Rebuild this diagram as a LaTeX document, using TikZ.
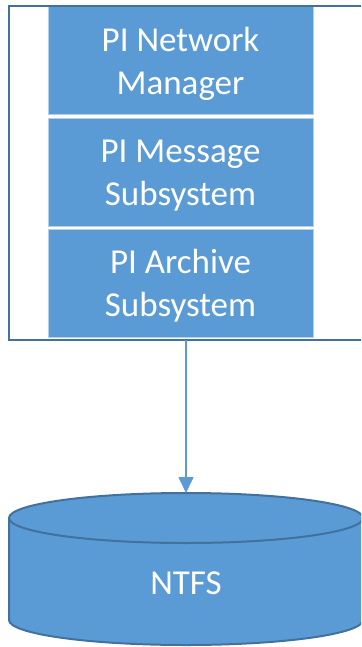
\documentclass[tikz,border=0pt]{standalone}
\usepackage{fontspec}
\setmainfont{Carlito}
\usetikzlibrary{arrows.meta}
\definecolor{boxfill}{HTML}{5B9BD5}
\definecolor{framec}{HTML}{41719C}
\definecolor{boxedge}{HTML}{B4CFEA}
\tikzset{
  layerbox/.style={rectangle, fill=boxfill, draw=boxedge, line width=1pt,
    minimum width=265pt, minimum height=108pt, inner sep=0pt, outer sep=0pt,
    text=white, align=center, text depth=0pt, font=\fontsize{35}{42.7}\selectfont},
  framebox/.style={rectangle, draw=framec, line width=2pt, minimum width=354pt,
    minimum height=334pt, inner sep=0pt, outer sep=0pt, anchor=north west},
  cylstyle/.style={fill=boxfill, draw=framec, line width=2pt},
  flowarrow/.style={draw=boxfill, line width=1.6pt, -{Triangle[width=15pt,length=16pt]}},
  cyltext/.style={text=white, font=\fontsize{35}{42.7}\selectfont, inner sep=0pt}
}
\begin{document}
\begin{tikzpicture}[x=1pt,y=-1pt]
\useasboundingbox (0,0) rectangle (361,647);
\begin{scope}
\clip (0,0) rectangle (361,647);
\node[layerbox] (netmgr) at (180.5,61) {PI Network\\Manager};
\node[layerbox] (msgsub) at (180.5,172.5) {PI Message\\Subsystem};
\node[layerbox] (archsub) at (180.5,283) {PI Archive\\Subsystem};
\node[framebox] (frame) at (9,6) {};
% cylinder
\filldraw[cylstyle] (9,518) -- (9,620)
  arc[start angle=180,end angle=360,x radius=177pt,y radius=25pt]
  -- (363,518) -- cycle;
\filldraw[cylstyle] (186,518) ellipse[x radius=177pt,y radius=25pt];
\coordinate (cyltop) at (186,493);
\node[cyltext] (ntfs) at (186,583) {NTFS};
\draw[flowarrow] (frame.south) -- (cyltop);
\end{scope}
\end{tikzpicture}
\end{document}
